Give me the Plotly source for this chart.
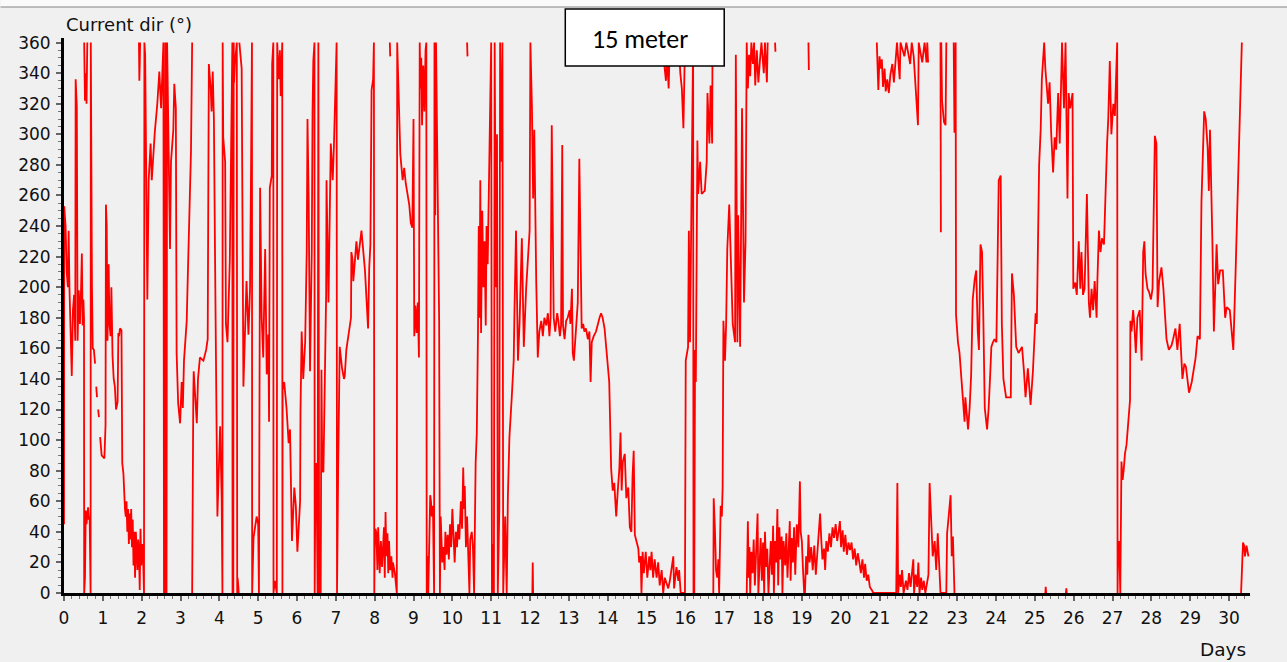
import plotly.graph_objects as go

# ---- data: (day, current direction in degrees); each list is one drawn stretch of line ----
seg_01 = [(0.000, 45), (0.005, 253), (0.04, 240), (0.07, 210), (0.10, 200), (0.12, 237), (0.14, 200), (0.17, 160),
          (0.20, 142), (0.23, 185), (0.26, 195), (0.29, 165), (0.30, 336), (0.33, 318), (0.35, 165), (0.38, 198),
          (0.41, 176), (0.44, 200), (0.46, 222), (0.48, 175), (0.50, 192), (0.515, 180), (0.52, 0), (0.54, 10),
          (0.56, 54), (0.58, 45), (0.60, 52), (0.62, 56), (0.64, 48), (0.66, 50), (0.685, 0), (0.69, 360),
          (0.72, 200), (0.74, 160), (0.77, 159), (0.80, 150)]
seg_02 = [(0.83, 135), (0.85, 128)]
seg_03 = [(0.88, 120), (0.90, 115)]
seg_04 = [(0.93, 102), (0.97, 90), (1.04, 88), (1.056, 105), (1.07, 110), (1.08, 254), (1.10, 240), (1.12, 165),
          (1.15, 215), (1.17, 176), (1.20, 168), (1.22, 200), (1.25, 155), (1.28, 140), (1.31, 135), (1.34, 120),
          (1.38, 125), (1.40, 170), (1.42, 168), (1.44, 173), (1.48, 172), (1.50, 85), (1.53, 78), (1.57, 55),
          (1.59, 50), (1.61, 60), (1.63, 40), (1.65, 55), (1.67, 32), (1.69, 52), (1.71, 35), (1.73, 55),
          (1.75, 30), (1.77, 48), (1.79, 18), (1.81, 40), (1.83, 10), (1.85, 40), (1.87, 20), (1.89, 15),
          (1.91, 35), (1.93, 28), (1.95, 2), (1.97, 42), (1.99, 18), (2.02, 32), (2.04, 20), (2.06, 0),
          (2.07, 360), (2.09, 352), (2.146, 192), (2.16, 256), (2.18, 270), (2.23, 294), (2.26, 270), (2.34, 302),
          (2.40, 319), (2.455, 341), (2.50, 317), (2.56, 360), (2.575, 0), (2.59, 133), (2.60, 0), (2.61, 360),
          (2.62, 0), (2.63, 120), (2.64, 0), (2.655, 360), (2.73, 225), (2.755, 282), (2.815, 303), (2.84, 333),
          (2.88, 317), (2.90, 157), (2.94, 124), (2.99, 111), (3.03, 138), (3.06, 121), (3.09, 152), (3.13, 171),
          (3.16, 178), (3.18, 199), (3.245, 258), (3.27, 289), (3.30, 360)]
seg_05 = [(0.52, 360), (0.54, 322), (0.56, 340), (0.58, 320), (0.60, 360)]
seg_06 = [(1.93, 360), (1.94, 335), (1.95, 345), (1.96, 360)]
seg_07 = [(3.30, 0), (3.305, 42), (3.33, 130), (3.34, 145), (3.40, 114), (3.42, 111), (3.45, 140), (3.50, 154),
          (3.59, 152), (3.66, 159), (3.70, 166), (3.73, 346), (3.78, 329), (3.80, 315), (3.83, 341), (3.86, 310),
          (3.89, 218), (3.95, 50), (4.02, 109), (4.06, 62), (4.08, 0), (4.086, 360), (4.10, 298), (4.15, 282),
          (4.17, 176), (4.21, 164), (4.27, 218), (4.335, 360), (4.34, 0), (4.35, 22), (4.36, 0), (4.37, 360),
          (4.38, 334), (4.40, 346), (4.45, 360), (4.46, 0), (4.47, 10), (4.49, 4), (4.50, 0)]
seg_08 = [(4.515, 360), (4.575, 343), (4.62, 135), (4.70, 204), (4.75, 169), (4.79, 199), (4.815, 273), (4.84, 360),
          (4.845, 0), (4.88, 36), (4.96, 50), (5.00, 45), (5.02, 0), (5.05, 265), (5.09, 180), (5.13, 154),
          (5.18, 225), (5.22, 143), (5.26, 169), (5.28, 112), (5.30, 265), (5.35, 273), (5.36, 346), (5.39, 360),
          (5.395, 0), (5.43, 8), (5.48, 0), (5.49, 360), (5.53, 336), (5.56, 355), (5.58, 325), (5.62, 360),
          (5.625, 0), (5.63, 133), (5.67, 138), (5.73, 121), (5.785, 98), (5.82, 107), (5.87, 34), (5.93, 69),
          (5.97, 57), (6.01, 27), (6.08, 60), (6.09, 119), (6.12, 171), (6.16, 140), (6.21, 164), (6.25, 223),
          (6.27, 310), (6.30, 258), (6.335, 145), (6.38, 223), (6.40, 315), (6.42, 348), (6.45, 360), (6.455, 0),
          (6.47, 57), (6.49, 85), (6.51, 60), (6.53, 0), (6.55, 360), (6.57, 0), (6.61, 0), (6.63, 146),
          (6.65, 80), (6.68, 79), (6.71, 145), (6.75, 195), (6.76, 270), (6.81, 190), (6.87, 294), (6.92, 270),
          (6.95, 292), (7.02, 360), (7.03, 0), (7.04, 74), (7.06, 81), (7.10, 161), (7.13, 154), (7.16, 147),
          (7.21, 140), (7.23, 142), (7.27, 159), (7.32, 168), (7.36, 176), (7.39, 180), (7.40, 223), (7.43, 218),
          (7.45, 204), (7.53, 230), (7.57, 218), (7.66, 237), (7.75, 211), (7.80, 180), (7.83, 173), (7.86, 213),
          (7.89, 228), (7.92, 329), (7.96, 336), (7.98, 360), (7.99, 0), (8.0, 29), (8.02, 42), (8.045, 39),
          (8.07, 15), (8.09, 43), (8.13, 13), (8.16, 34), (8.19, 17), (8.22, 39), (8.24, 43), (8.26, 10),
          (8.28, 53), (8.30, 24), (8.33, 39), (8.35, 13), (8.37, 34), (8.40, 15), (8.43, 24), (8.46, 10),
          (8.47, 20), (8.52, 13), (8.54, 5), (8.57, 0), (8.58, 360), (8.62, 319), (8.66, 287), (8.72, 270),
          (8.76, 278), (8.80, 268), (8.85, 261), (8.89, 254), (8.93, 242), (8.97, 239), (9.0, 310), (9.02, 168),
          (9.05, 188), (9.08, 170), (9.11, 190), (9.14, 154), (9.16, 360), (9.18, 330), (9.20, 350), (9.22, 306),
          (9.25, 345), (9.28, 315), (9.31, 355), (9.33, 360), (9.34, 0), (9.36, 24), (9.38, 0), (9.41, 33),
          (9.43, 64), (9.45, 60), (9.47, 50), (9.50, 57), (9.53, 0), (9.54, 360), (9.56, 247), (9.58, 360),
          (9.62, 250), (9.66, 178), (9.68, 0), (9.70, 50), (9.72, 35), (9.74, 20), (9.77, 30), (9.80, 15),
          (9.82, 40), (9.85, 25), (9.88, 38), (9.91, 22), (9.94, 45), (9.97, 30), (10.0, 55), (10.03, 35),
          (10.06, 20), (10.09, 40), (10.12, 30), (10.15, 45), (10.18, 35), (10.22, 60), (10.25, 42), (10.28, 82),
          (10.30, 55), (10.32, 70), (10.35, 30), (10.38, 50), (10.41, 20), (10.44, 0), (10.46, 35), (10.50, 40),
          (10.53, 30), (10.56, 0), (10.60, 85), (10.63, 105), (10.66, 170), (10.68, 240), (10.70, 180), (10.72, 270),
          (10.74, 170), (10.77, 250), (10.80, 200), (10.83, 230), (10.86, 175), (10.88, 240), (10.91, 215),
          (10.94, 260), (10.97, 290), (11.0, 360), (11.02, 0), (11.05, 32), (11.07, 0), (11.09, 360), (11.12, 200),
          (11.15, 300), (11.17, 0), (11.21, 55), (11.23, 360), (11.26, 282), (11.29, 360), (11.31, 0), (11.36, 50),
          (11.40, 0), (11.43, 63), (11.47, 102), (11.53, 128), (11.58, 152), (11.60, 185), (11.64, 237),
          (11.69, 152), (11.73, 176), (11.79, 232), (11.84, 161), (11.90, 199), (11.94, 216), (11.99, 237),
          (12.01, 360), (12.05, 317), (12.08, 258), (12.11, 303), (12.16, 204), (12.20, 154), (12.24, 171),
          (12.29, 178), (12.33, 168), (12.37, 180), (12.42, 175), (12.46, 183), (12.50, 168), (12.53, 180),
          (12.56, 306), (12.59, 223), (12.61, 180), (12.65, 171), (12.67, 175), (12.70, 183), (12.73, 178),
          (12.77, 168), (12.80, 175), (12.83, 293), (12.85, 175), (12.89, 166), (12.93, 178), (12.97, 180),
          (13.02, 185), (13.04, 176), (13.08, 199), (13.10, 157), (13.13, 152), (13.16, 164), (13.20, 183),
          (13.23, 190), (13.27, 284), (13.30, 223), (13.33, 173), (13.37, 176), (13.40, 171), (13.44, 173),
          (13.49, 166), (13.53, 171), (13.56, 138), (13.59, 164), (13.64, 168), (13.70, 171), (13.74, 176),
          (13.79, 180), (13.83, 183), (13.87, 180), (13.92, 173), (13.96, 161), (14.0, 152), (14.04, 138),
          (14.09, 81), (14.13, 67), (14.17, 72), (14.20, 62), (14.22, 50), (14.26, 67), (14.30, 81), (14.33, 105),
          (14.36, 67), (14.39, 86), (14.44, 91), (14.48, 62), (14.53, 69), (14.57, 43), (14.61, 40), (14.64, 76),
          (14.67, 93), (14.70, 38), (14.79, 29), (14.81, 20), (14.85, 24), (14.87, 0), (14.90, 27), (14.93, 13),
          (14.98, 27), (15.02, 10), (15.07, 24), (15.10, 15), (15.13, 27), (15.17, 10), (15.21, 22), (15.26, 10),
          (15.30, 20), (15.34, 5), (15.39, 15), (15.43, 0), (15.47, 10), (15.56, 3), (15.60, 8), (15.69, 24),
          (15.71, 3), (15.77, 17), (15.82, 8), (15.84, 15), (15.88, 0), (15.99, 0), (16.01, 152), (16.07, 161),
          (16.09, 237), (16.12, 164), (16.16, 270), (16.20, 360), (16.21, 0), (16.23, 0), (16.25, 159),
          (16.27, 138), (16.31, 296), (16.33, 261), (16.38, 282), (16.42, 261), (16.50, 263), (16.55, 282),
          (16.57, 327), (16.62, 294), (16.65, 332), (16.69, 294), (16.70, 360)]
seg_09 = [(8.39, 360), (8.40, 351)]
seg_10 = [(10.38, 360), (10.39, 351)]
seg_11 = [(12.06, 0), (12.07, 20), (12.08, 0)]
seg_12 = [(15.43, 360), (15.46, 345), (15.50, 335), (15.53, 350), (15.57, 330), (15.60, 360)]
seg_13 = [(15.83, 360), (15.87, 340), (15.91, 330), (15.95, 304), (15.98, 345), (16.02, 360)]
seg_14 = [(16.72, 0), (16.73, 62), (16.76, 43), (16.79, 15), (16.82, 10), (16.85, 22), (16.87, 0), (16.91, 57),
          (16.94, 50), (16.96, 69), (16.98, 178), (17.02, 152), (17.05, 176), (17.08, 225), (17.13, 254),
          (17.17, 223), (17.22, 176), (17.28, 164), (17.30, 352), (17.34, 164), (17.36, 247), (17.41, 161),
          (17.46, 317), (17.51, 190), (17.55, 230), (17.58, 360), (17.61, 330), (17.64, 352), (17.67, 338),
          (17.70, 360), (17.74, 346), (17.77, 360), (17.80, 332), (17.84, 355), (17.88, 334), (17.92, 348),
          (17.96, 360), (18.02, 340), (18.05, 360), (18.10, 334), (18.12, 360)]
seg_15 = [(18.31, 360), (18.32, 354)]
seg_16 = [(19.17, 360), (19.18, 342)]
seg_17 = [(17.58, 0), (17.61, 47), (17.63, 10), (17.65, 30), (17.67, 0), (17.70, 27), (17.73, 13), (17.76, 35),
          (17.79, 5), (17.82, 29), (17.86, 52), (17.88, 0), (17.91, 24), (17.94, 36), (17.97, 8), (18.00, 33),
          (18.03, 0), (18.05, 40), (18.08, 17), (18.11, 29), (18.14, 0), (18.17, 24), (18.20, 34), (18.23, 12),
          (18.26, 44), (18.28, 0), (18.31, 34), (18.34, 20), (18.37, 55), (18.39, 5), (18.42, 43), (18.45, 22),
          (18.48, 37), (18.50, 0), (18.53, 34), (18.57, 18), (18.60, 39), (18.63, 10), (18.66, 30), (18.69, 47),
          (18.71, 8), (18.74, 36), (18.77, 20), (18.80, 43), (18.83, 12), (18.87, 45), (18.91, 30), (18.95, 73),
          (18.97, 40), (19.0, 34), (19.03, 15), (19.06, 0), (19.08, 0), (19.11, 24), (19.14, 12), (19.17, 38),
          (19.20, 20), (19.24, 30), (19.28, 15), (19.32, 31), (19.36, 12), (19.40, 28), (19.44, 45), (19.47, 52),
          (19.50, 35), (19.53, 22), (19.57, 29), (19.60, 15), (19.63, 34), (19.67, 27), (19.71, 39), (19.75, 30),
          (19.79, 43), (19.83, 36), (19.87, 45), (19.91, 34), (19.95, 41), (19.98, 47), (20.01, 30), (20.05, 41),
          (20.08, 27), (20.12, 38), (20.16, 25), (20.20, 33), (20.24, 28), (20.28, 33), (20.32, 22), (20.36, 29),
          (20.40, 18), (20.44, 26), (20.48, 20), (20.52, 13), (20.56, 22), (20.60, 10), (20.63, 19), (20.67, 8),
          (20.71, 12), (20.75, 4), (20.80, 2), (20.84, 0), (21.43, 0), (21.44, 67), (21.46, 72), (21.48, 0),
          (21.52, 12), (21.55, 4), (21.58, 15), (21.62, 0), (21.68, 8), (21.72, 2), (21.76, 13), (21.80, 4),
          (21.84, 18), (21.87, 22), (21.89, 0), (21.93, 12), (21.97, 4), (22.0, 20), (22.03, 0), (22.07, 10),
          (22.10, 2), (22.14, 8), (22.18, 0), (22.22, 5), (22.26, 12), (22.29, 72), (22.33, 50), (22.37, 24),
          (22.42, 34), (22.46, 15), (22.50, 39), (22.54, 10), (22.57, 0), (22.72, 0), (22.74, 39), (22.78, 50),
          (22.83, 64), (22.86, 24), (22.89, 37), (22.93, 0)]
seg_18 = [(20.93, 360), (20.97, 329), (21.0, 351), (21.03, 343), (21.06, 349), (21.09, 331), (21.13, 343),
          (21.16, 328), (21.20, 336), (21.24, 327), (21.28, 339), (21.33, 346), (21.37, 334), (21.45, 360),
          (21.52, 336), (21.54, 360), (21.64, 351), (21.69, 360), (21.79, 346), (21.83, 360), (21.88, 351),
          (21.90, 343), (21.99, 306), (22.01, 360), (22.10, 347), (22.16, 360), (22.21, 347), (22.23, 360),
          (22.25, 347)]
seg_19 = [(22.57, 360), (22.58, 236)]
seg_20 = [(22.59, 360), (22.61, 322), (22.66, 308), (22.70, 306), (22.72, 360)]
seg_21 = [(22.91, 360), (22.93, 301), (22.95, 339), (22.96, 360), (22.97, 182), (23.02, 164), (23.06, 157),
          (23.10, 145), (23.15, 126), (23.19, 112), (23.21, 128), (23.28, 107), (23.32, 121), (23.36, 143),
          (23.40, 192), (23.45, 205), (23.49, 211), (23.53, 171), (23.56, 159), (23.60, 228), (23.64, 223),
          (23.67, 185), (23.71, 121), (23.77, 107), (23.81, 121), (23.85, 143), (23.88, 161), (23.92, 164),
          (23.96, 166), (24.01, 164), (24.07, 270), (24.12, 273), (24.15, 176), (24.19, 140), (24.22, 135),
          (24.26, 128), (24.38, 128), (24.41, 209), (24.46, 195), (24.52, 161), (24.58, 157), (24.67, 161),
          (24.72, 145), (24.76, 128), (24.82, 147), (24.89, 123), (24.95, 145), (25.02, 183), (25.05, 176),
          (25.08, 242), (25.11, 280), (25.15, 303), (25.18, 336), (25.24, 360), (25.27, 343), (25.34, 320),
          (25.38, 334), (25.42, 301), (25.47, 275), (25.51, 298), (25.55, 290), (25.60, 327), (25.64, 294),
          (25.70, 360), (25.75, 317), (25.79, 360), (25.81, 320), (25.84, 258), (25.87, 327), (25.91, 317),
          (25.97, 327), (25.99, 199), (26.04, 203), (26.08, 195), (26.13, 230), (26.17, 199), (26.20, 223),
          (26.24, 195), (26.28, 199), (26.34, 261), (26.39, 190), (26.42, 180), (26.46, 199), (26.50, 185),
          (26.54, 204), (26.59, 180), (26.61, 204), (26.65, 237), (26.69, 223), (26.73, 232), (26.78, 228),
          (26.83, 275), (26.86, 294), (26.89, 310), (26.93, 348), (26.97, 300), (27.02, 320), (27.06, 312),
          (27.12, 360), (27.13, 0), (27.14, 24), (27.17, 34), (27.20, 0), (27.23, 86), (27.26, 74), (27.29, 81),
          (27.32, 91), (27.36, 97), (27.38, 104), (27.42, 121), (27.45, 126), (27.46, 178), (27.49, 171),
          (27.53, 185), (27.56, 176), (27.60, 157), (27.64, 180), (27.70, 185), (27.75, 152), (27.79, 223),
          (27.82, 230), (27.85, 209), (27.90, 199), (27.94, 197), (27.99, 192), (28.03, 199), (28.09, 299),
          (28.13, 294), (28.16, 187), (28.20, 204), (28.26, 213), (28.31, 199), (28.35, 180), (28.39, 166),
          (28.45, 159), (28.52, 162), (28.56, 166), (28.62, 173), (28.67, 159), (28.73, 176), (28.80, 140),
          (28.85, 150), (28.89, 148), (28.97, 131), (29.04, 138), (29.08, 145), (29.14, 154), (29.19, 168),
          (29.25, 166), (29.29, 256), (29.36, 315), (29.40, 310), (29.45, 291), (29.48, 263), (29.51, 303),
          (29.57, 232), (29.61, 171), (29.68, 228), (29.72, 202), (29.77, 211), (29.84, 211), (29.90, 180),
          (29.94, 187), (30.02, 185), (30.11, 159), (30.17, 211), (30.24, 284), (30.28, 306), (30.33, 360)]
seg_22 = [(25.27, 0), (25.28, 4), (25.29, 0)]
seg_23 = [(25.80, 0), (25.81, 3), (25.82, 0)]
seg_24 = [(30.31, 0), (30.34, 29), (30.36, 33), (30.39, 31), (30.41, 24), (30.45, 31), (30.48, 27), (30.50, 24)]

segments = [seg_01, seg_02, seg_03, seg_04, seg_05, seg_06, seg_07, seg_08, seg_09, seg_10, seg_11, seg_12,
            seg_13, seg_14, seg_15, seg_16, seg_17, seg_18, seg_19, seg_20, seg_21, seg_22, seg_23, seg_24]

x_tick_days = list(range(0, 31))
y_tick_degrees = list(range(0, 361, 20))

# ---- build the single red line trace (None breaks between stretches) ----
days, direction = [], []
for seg in segments:
    for d, v in seg:
        days.append(d)
        direction.append(v)
    days.append(None)
    direction.append(None)

fig = go.Figure(go.Scatter(
    x=days, y=direction, mode="lines",
    line=dict(color="#ff0000", width=1.8),
    connectgaps=False, hoverinfo="skip", showlegend=False,
))

# geometry (pixels): plot area from x=63.5 to 1250, y=38 to 593
L, R, T, B = 63.5, 37, 38, 69
W, H = 1287, 662
pw, ph = W - L - R, H - T - B

def px2x(px):
    return (px - L) / pw

def py2y(py):
    return (H - B - py) / ph

tick_font = dict(family="DejaVu Sans, Verdana, sans-serif", size=17, color="#111111")

fig.update_layout(
    width=W, height=H,
    margin=dict(l=L, r=R, t=T, b=B, pad=0),
    paper_bgcolor="#f0f0f0", plot_bgcolor="#f0f0f0",
    showlegend=False,
    font=tick_font,
)

fig.update_xaxes(
    range=[0, 30.54], tickmode="array", tickvals=x_tick_days, ticktext=[str(t) for t in x_tick_days],
    ticks="outside", ticklen=5, tickwidth=1.5, tickcolor="#666666",
    showline=True, linecolor="black", linewidth=3,
    showgrid=False, zeroline=False, tickfont=tick_font, ticklabelstandoff=3,
    minor=dict(tick0=0, dtick=0.2, ticks="outside", ticklen=3, tickwidth=1, tickcolor="#777777", showgrid=False),
)
fig.update_yaxes(
    range=[0, 363], tickmode="array", tickvals=y_tick_degrees, ticktext=[str(t) for t in y_tick_degrees],
    ticks="outside", ticklen=5, tickwidth=1.5, tickcolor="#666666",
    showline=True, linecolor="black", linewidth=3,
    showgrid=False, zeroline=False, tickfont=tick_font, ticklabelstandoff=2,
    minor=dict(tick0=0, dtick=5, ticks="outside", ticklen=3, tickwidth=1, tickcolor="#777777", showgrid=False),
)

# top light strip and separator line
fig.add_shape(type="rect", xref="paper", yref="paper", x0=px2x(0), x1=px2x(W), y0=py2y(7), y1=py2y(0),
              fillcolor="#fafafa", line=dict(width=0), layer="below")
fig.add_shape(type="line", xref="paper", yref="paper", x0=px2x(0), x1=px2x(W), y0=py2y(7), y1=py2y(7),
              line=dict(color="#a8a8a8", width=1.5))

# "15 meter" box
fig.add_shape(type="rect", xref="paper", yref="paper", x0=px2x(565), x1=px2x(724), y0=py2y(66), y1=py2y(9),
              fillcolor="white", line=dict(color="black", width=1.5), layer="above")
fig.add_annotation(xref="paper", yref="paper", x=px2x(640), y=py2y(39), text="15 meter", showarrow=False,
                   xanchor="center", yanchor="middle",
                   font=dict(family="Carlito, Lato, Open Sans, sans-serif", size=26, color="black"))

# axis titles
fig.add_annotation(xref="paper", yref="paper", x=px2x(64), y=py2y(24), text="Current dir (°)", showarrow=False,
                   xanchor="left", yanchor="middle",
                   font=dict(family="DejaVu Sans, Verdana, sans-serif", size=18, color="#111111"))
fig.add_annotation(xref="paper", yref="paper", x=px2x(1248), y=py2y(649), text="Days", showarrow=False,
                   xanchor="right", yanchor="middle",
                   font=dict(family="DejaVu Sans, Verdana, sans-serif", size=18.5, color="#111111"))

fig.write_html("out.html")
